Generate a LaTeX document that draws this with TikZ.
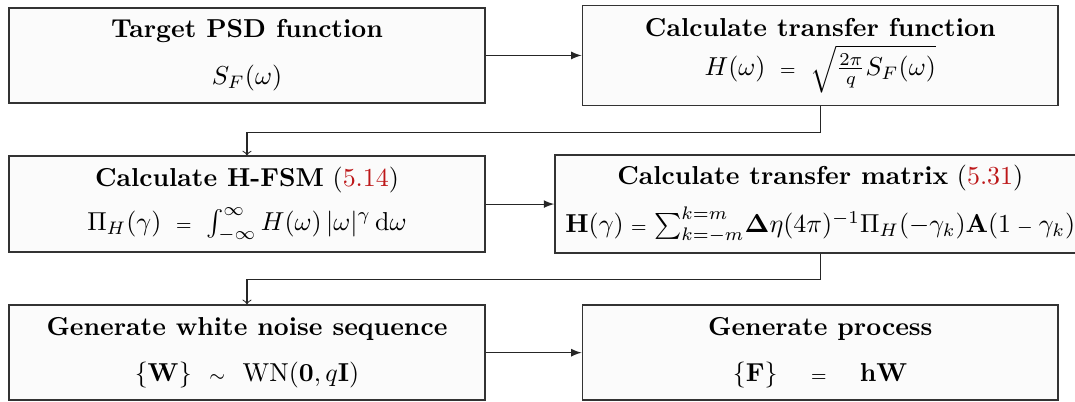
\documentclass[tikz,border=0pt]{standalone}
\usepackage{amsmath}
\usetikzlibrary{arrows,positioning}

\definecolor{refred}{rgb}{0.74,0.09,0.10}
\newcommand{\smeq}{\mathrel{\scriptstyle =}}
\newcommand{\smminus}{\mathbin{\scriptstyle -}}
\newcommand{\refnum}[1]{{\mdseries(\textcolor{refred}{#1})}}

\begin{document}
\begin{tikzpicture}[
    node distance=0.70cm and 1.30cm,
    block/.style={draw=black!80, line width=0.6pt, fill=gray!3, minimum width=6.45cm, minimum height=1.29cm, align=center, inner sep=4pt},
    arrow/.style={-latex, black!85},
    down/.style={->, black!85}
]
    \useasboundingbox (-3.348,0.752) rectangle (11.224,-4.684);

    \node[block] (psd) at (0,0) {\textbf{Target PSD function}\\[6pt] $S_F(\omega)$};
    \node[block, minimum height=1.36cm, right=of psd] (tf) {\textbf{Calculate transfer function}\\[3pt] $H(\omega)\;\smeq\;\sqrt{\frac{2\pi}{q}S_F(\omega)}$};
    \node[block, below=of psd] (fsm) {\textbf{Calculate H-FSM} \refnum{5.14}\\[5pt] $\Pi_H(\gamma)\;\smeq\;\int_{-\infty}^{\infty} H(\omega)\,|\omega|^{\gamma}\,\mathrm{d}\omega$};
    \node[block] (mat) at (fsm -| tf) {\textbf{Calculate transfer matrix} \refnum{5.31}\\[5pt] $\mathbf{H}(\gamma) \smeq \sum_{k=-m}^{k=m}\! \mathbf{\Delta}\eta(4\pi)^{-1}\Pi_H(-\gamma_k)\mathbf{A}(1\smminus\gamma_k)$};
    \node[block, below=of fsm] (noise) {\textbf{Generate white noise sequence}\\[6pt] $\{\mathbf{W}\}\ \ {\scriptstyle\sim}\ \ \mathrm{WN}(\mathbf{0},q\mathbf{I})$};
    \node[block] (proc) at (noise -| tf) {\textbf{Generate process}\\[6pt] $\{\mathbf{F}\}\ \ \ \smeq\ \ \ \mathbf{hW}$};

    \draw[arrow] (psd.east) -- (psd.east -| tf.west);
    \draw[down] (tf.south) -- ++(0,-0.35) -| (fsm.north);
    \draw[arrow] (fsm.east) -- (fsm.east -| mat.west);
    \draw[down] (mat.south) -- ++(0,-0.35) -| (noise.north);
    \draw[arrow] (noise.east) -- (noise.east -| proc.west);
\end{tikzpicture}
\end{document}
